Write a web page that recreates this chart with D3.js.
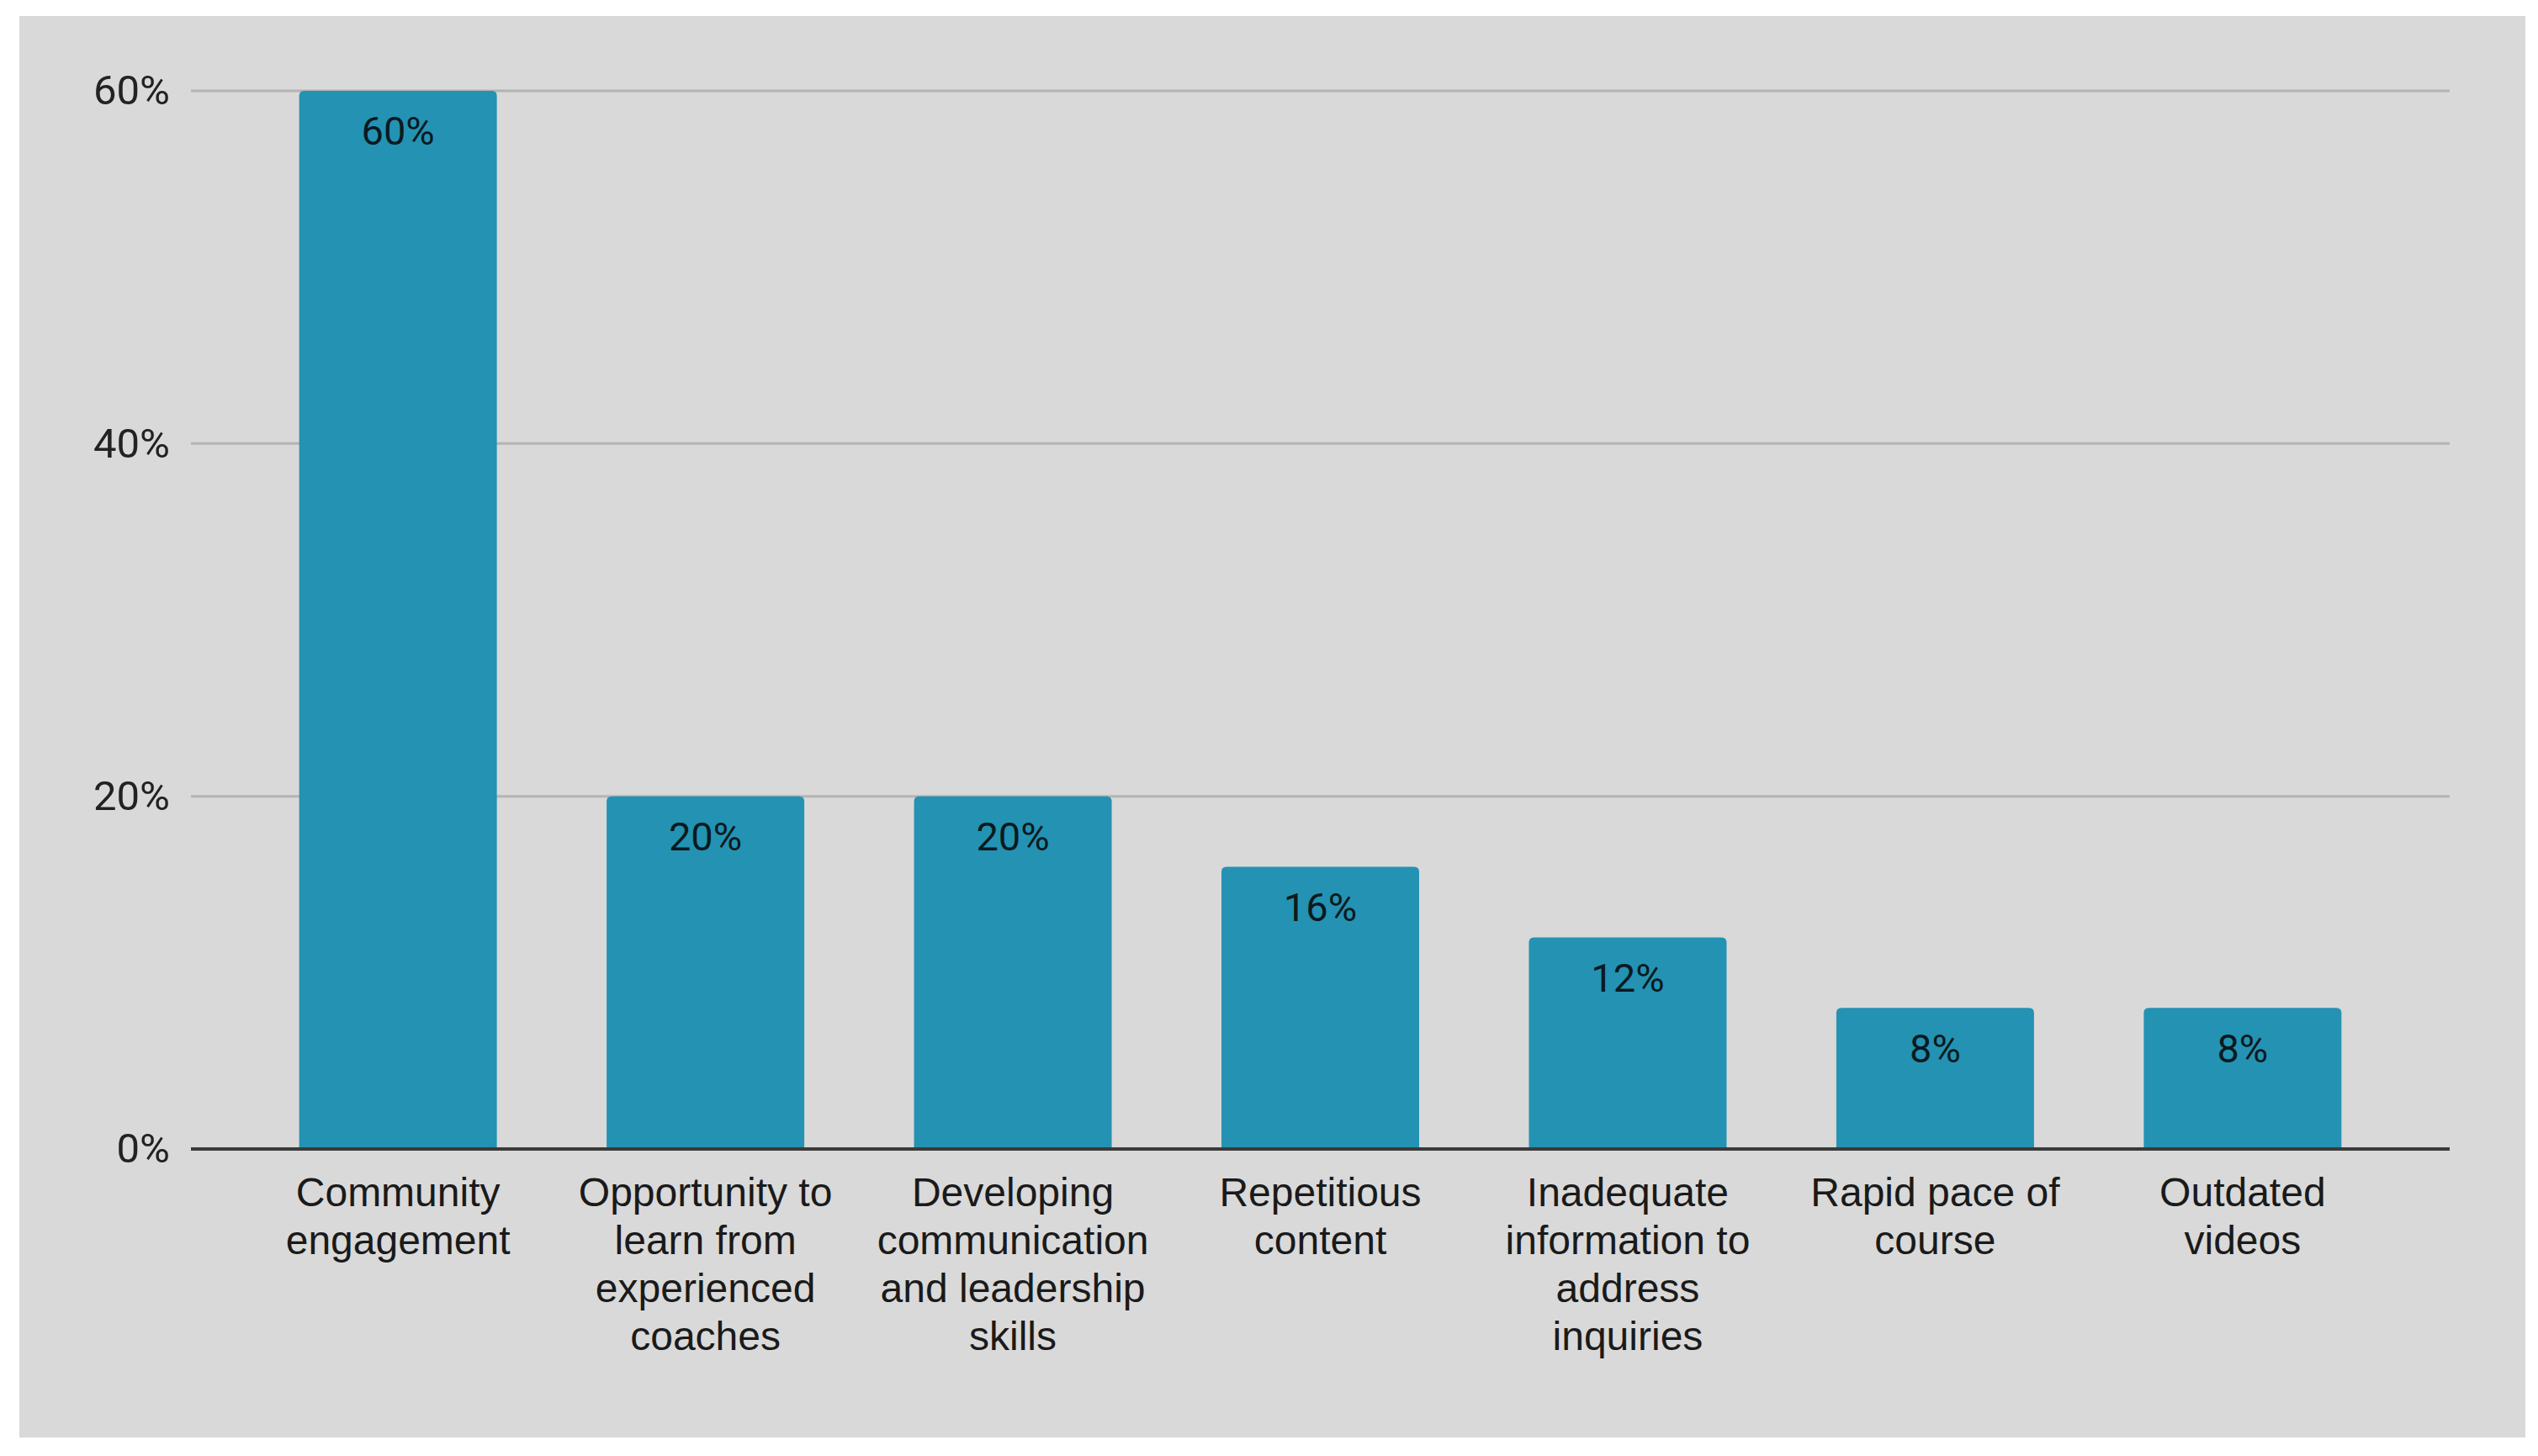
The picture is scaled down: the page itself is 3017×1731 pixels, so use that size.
<!DOCTYPE html>
<html>
<head>
<meta charset="utf-8">
<script src="https://cdn.jsdelivr.net/npm/d3@7"></script>
<style>
  html, body { margin: 0; padding: 0; background: #ffffff; }
  #chart { width: 3017px; height: 1731px; }
</style>
</head>
<body>
<div id="chart"></div>
<script>
// chart data
var categories = [
  "Community engagement",
  "Opportunity to learn from experienced coaches",
  "Developing communication and leadership skills",
  "Repetitious content",
  "Inadequate information to address inquiries",
  "Rapid pace of course",
  "Outdated videos"
];
var labelLines = [
  ["Community", "engagement"],
  ["Opportunity to", "learn from", "experienced", "coaches"],
  ["Developing", "communication", "and leadership", "skills"],
  ["Repetitious", "content"],
  ["Inadequate", "information to", "address", "inquiries"],
  ["Rapid pace of", "course"],
  ["Outdated", "videos"]
];
var values = [0.60, 0.20, 0.20, 0.16, 0.12, 0.08, 0.08];
var yTicks = [0, 0.2, 0.4, 0.6];

function drawChart(tag) {
  var W = 3017, H = 1731;
  var margin = {top: 108, right: 105, bottom: 365, left: 227},
      width = W - margin.left - margin.right,
      height = H - margin.top - margin.bottom;

  var root = d3.select('#' + tag)
    .append("svg")
      .attr("width", W)
      .attr("height", H);

  // grey panel
  root.append("rect")
    .attr("x", 23).attr("y", 19)
    .attr("width", 2979).attr("height", 1690)
    .attr("fill", "#d9d9d9");

  var svg = root.append("g")
    .attr("transform", "translate(" + margin.left + "," + margin.top + ")");

  var xaxis = d3.scaleBand()
    .domain(categories)
    .range([0, width])
    .paddingInner(0.357)
    .paddingOuter(0.352);

  var yaxis = d3.scaleLinear()
    .domain([0, 0.6])
    .range([height, 0]);

  // grid lines
  svg.selectAll("line.grid").data(yTicks.filter(function(d) { return d > 0; })).enter()
    .append("line")
      .attr("class", "grid")
      .attr("x1", 0).attr("x2", width)
      .attr("y1", function(d) { return yaxis(d); })
      .attr("y2", function(d) { return yaxis(d); })
      .attr("stroke", "#b4b4b4")
      .attr("stroke-width", 3);

  // y axis labels
  var yAx = svg.append("g")
    .call(d3.axisLeft(yaxis).tickValues(yTicks).tickSize(0).tickPadding(25)
      .tickFormat(d3.format(".0%")));
  yAx.select(".domain").remove();
  yAx.selectAll("text")
    .attr("font-family", "Roboto, sans-serif")
    .attr("font-size", 49)
    .attr("fill", "#222222");

  // bars, rounded top corners
  var r = 6;
  svg.selectAll("path.bar").data(values).enter()
    .append("path")
      .attr("class", "bar")
      .attr("fill", "#2492b2")
      .attr("d", function(d, i) {
        var x0 = xaxis(categories[i]), w = xaxis.bandwidth();
        var y0 = yaxis(d), y1 = yaxis(0);
        return "M" + x0 + "," + y1 +
               "V" + (y0 + r) +
               "Q" + x0 + "," + y0 + " " + (x0 + r) + "," + y0 +
               "H" + (x0 + w - r) +
               "Q" + (x0 + w) + "," + y0 + " " + (x0 + w) + "," + (y0 + r) +
               "V" + y1 + "Z";
      });

  // value labels
  svg.selectAll("text.value").data(values).enter()
    .append("text")
      .attr("class", "value")
      .attr("x", function(d, i) { return xaxis(categories[i]) + xaxis.bandwidth() / 2; })
      .attr("y", function(d) { return yaxis(d) + 52; })
      .attr("text-anchor", "middle")
      .attr("dominant-baseline", "middle")
      .attr("font-family", "Roboto, sans-serif")
      .attr("font-size", 47)
      .attr("fill", "#0a1a20")
      .text(function(d) { return d3.format(".0%")(d); });

  // baseline
  svg.append("line")
    .attr("x1", 0).attr("x2", width)
    .attr("y1", yaxis(0)).attr("y2", yaxis(0))
    .attr("stroke", "#3a3a3a")
    .attr("stroke-width", 4);

  // x labels
  var xl = svg.selectAll("text.xlabel").data(labelLines).enter()
    .append("text")
      .attr("class", "xlabel")
      .attr("text-anchor", "middle")
      .attr("font-family", "'Liberation Sans', Arial, sans-serif")
      .attr("font-size", 48)
      .attr("fill", "#1a1a1a");
  xl.each(function(lines, i) {
    var cx = xaxis(categories[i]) + xaxis.bandwidth() / 2;
    d3.select(this).selectAll("tspan").data(lines).enter()
      .append("tspan")
        .attr("x", cx)
        .attr("y", function(d, j) { return height + 55 + j * 57; })
        .attr("dominant-baseline", "middle")
        .text(function(d) { return d; });
  });
}

drawChart('chart');
</script>
</body>
</html>
